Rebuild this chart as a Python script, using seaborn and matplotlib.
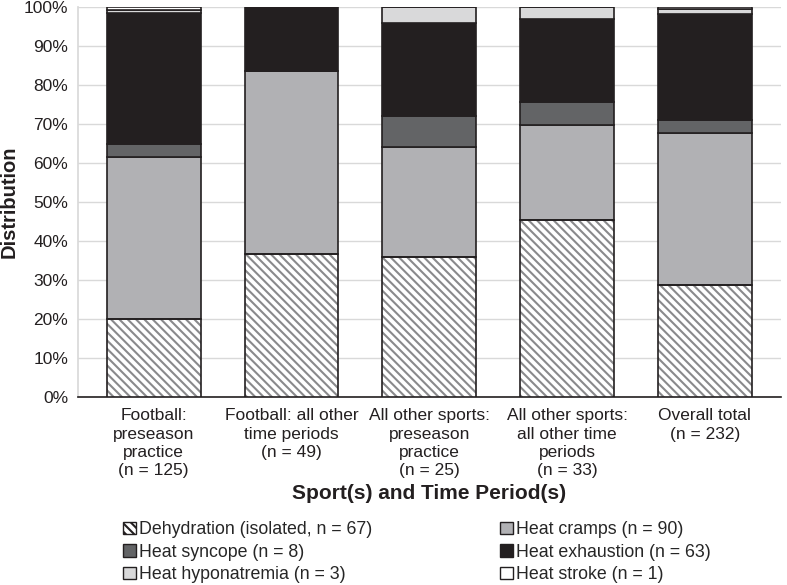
import matplotlib
matplotlib.use("Agg")
import matplotlib.pyplot as plt
from matplotlib.patches import Patch
import numpy as np
import pandas as pd
import seaborn as sns

categories = ["Football:\npreseason\npractice\n(n = 125)",
              "Football: all other\ntime periods\n(n = 49)",
              "All other sports:\npreseason\npractice\n(n = 25)",
              "All other sports:\nall other time\nperiods\n(n = 33)",
              "Overall total\n(n = 232)"]
types = ["Dehydration (isolated, n = 67)", "Heat cramps (n = 90)",
         "Heat syncope (n = 8)", "Heat exhaustion (n = 63)",
         "Heat hyponatremia (n = 3)", "Heat stroke (n = 1)"]
dehydration = [25, 18, 9, 15, 67]
cramps = [52, 23, 7, 8, 90]
syncope = [4, 0, 2, 2, 8]
exhaustion = [42, 8, 6, 7, 63]
hyponatremia = [1, 0, 1, 1, 3]
stroke = [1, 0, 0, 0, 1]

colors = ["white", "#b1b1b4", "#636466", "#231f20", "#d9d9da", "white"]

counts = np.array([dehydration, cramps, syncope, exhaustion, hyponatremia, stroke], dtype=float)
pct = counts / counts.sum(axis=0) * 100

sns.set_theme(style="white")
plt.rcParams['font.family'] = ['Liberation Sans', 'DejaVu Sans']
plt.rcParams['hatch.linewidth'] = 1.5

fig, ax = plt.subplots(figsize=(7.87, 5.85), dpi=100)
fig.subplots_adjust(left=0.099, right=0.992, top=0.988, bottom=0.321)

bottom = np.zeros(len(categories))
for i, name in enumerate(types):
    df = pd.DataFrame({"cat": categories, "val": pct[i]})
    if i == 0:
        # hatch in grey, outline drawn separately in dark
        sns.barplot(data=df, x="cat", y="val", bottom=bottom, color="white",
                    hatch="\\\\\\\\", edgecolor="#8a8a8c", linewidth=0, width=0.68,
                    saturation=1, ax=ax, zorder=3)
        sns.barplot(data=df, x="cat", y="val", bottom=bottom, fill=False,
                    color="#231f20", edgecolor="#231f20", linewidth=1.2, width=0.68,
                    ax=ax, zorder=4)
    else:
        sns.barplot(data=df, x="cat", y="val", bottom=bottom, color=colors[i],
                    edgecolor="#231f20", linewidth=1.2, width=0.68,
                    saturation=1, ax=ax, zorder=3)
    bottom = bottom + pct[i]

ax.set_xlim(-0.55, 4.55)
ax.set_ylim(0, 100)
ax.set_yticks(np.arange(0, 101, 10))
ax.set_yticklabels([f"{v}%" for v in range(0, 101, 10)], fontsize=12.5, color="#231f20")
ax.tick_params(axis="x", length=0, pad=8, labelsize=12.5, labelcolor="#231f20")
ax.tick_params(axis="y", length=0, pad=7)
ax.yaxis.grid(True, color="#d9d9d9", linewidth=1, zorder=0)
for s in ["top", "right"]:
    ax.spines[s].set_visible(False)
ax.spines["left"].set_color("#d9d9d9")
ax.spines["bottom"].set_color("#231f20")
ax.spines["bottom"].set_linewidth(1.2)

ax.set_xlabel("Sport(s) and Time Period(s)", fontsize=15, fontweight="bold",
              color="#231f20", labelpad=4)
ax.set_ylabel("Distribution", fontsize=14.5, fontweight="bold", color="#231f20", labelpad=4)

handles = []
for i, name in enumerate(types):
    if i == 0:
        h = Patch(facecolor="white", edgecolor="#231f20", hatch="\\\\\\\\", linewidth=1, label=name)
    else:
        h = Patch(facecolor=colors[i], edgecolor="#231f20", linewidth=1, label=name)
    handles.append(h)
order = [0, 2, 4, 1, 3, 5]
fig.legend([handles[k] for k in order], [types[k] for k in order], ncol=2,
           loc="lower center", bbox_to_anchor=(0.53, -0.024), frameon=False,
           fontsize=12.8, handlelength=0.7, handleheight=0.7, handletextpad=0.2,
           columnspacing=7.2, labelspacing=0.3)

# tick labels are built at draw time, so set line spacing after a first draw
fig.canvas.draw()
for t in ax.get_xticklabels():
    t.set_linespacing(1.28)

fig.savefig("out.png", dpi=100)
